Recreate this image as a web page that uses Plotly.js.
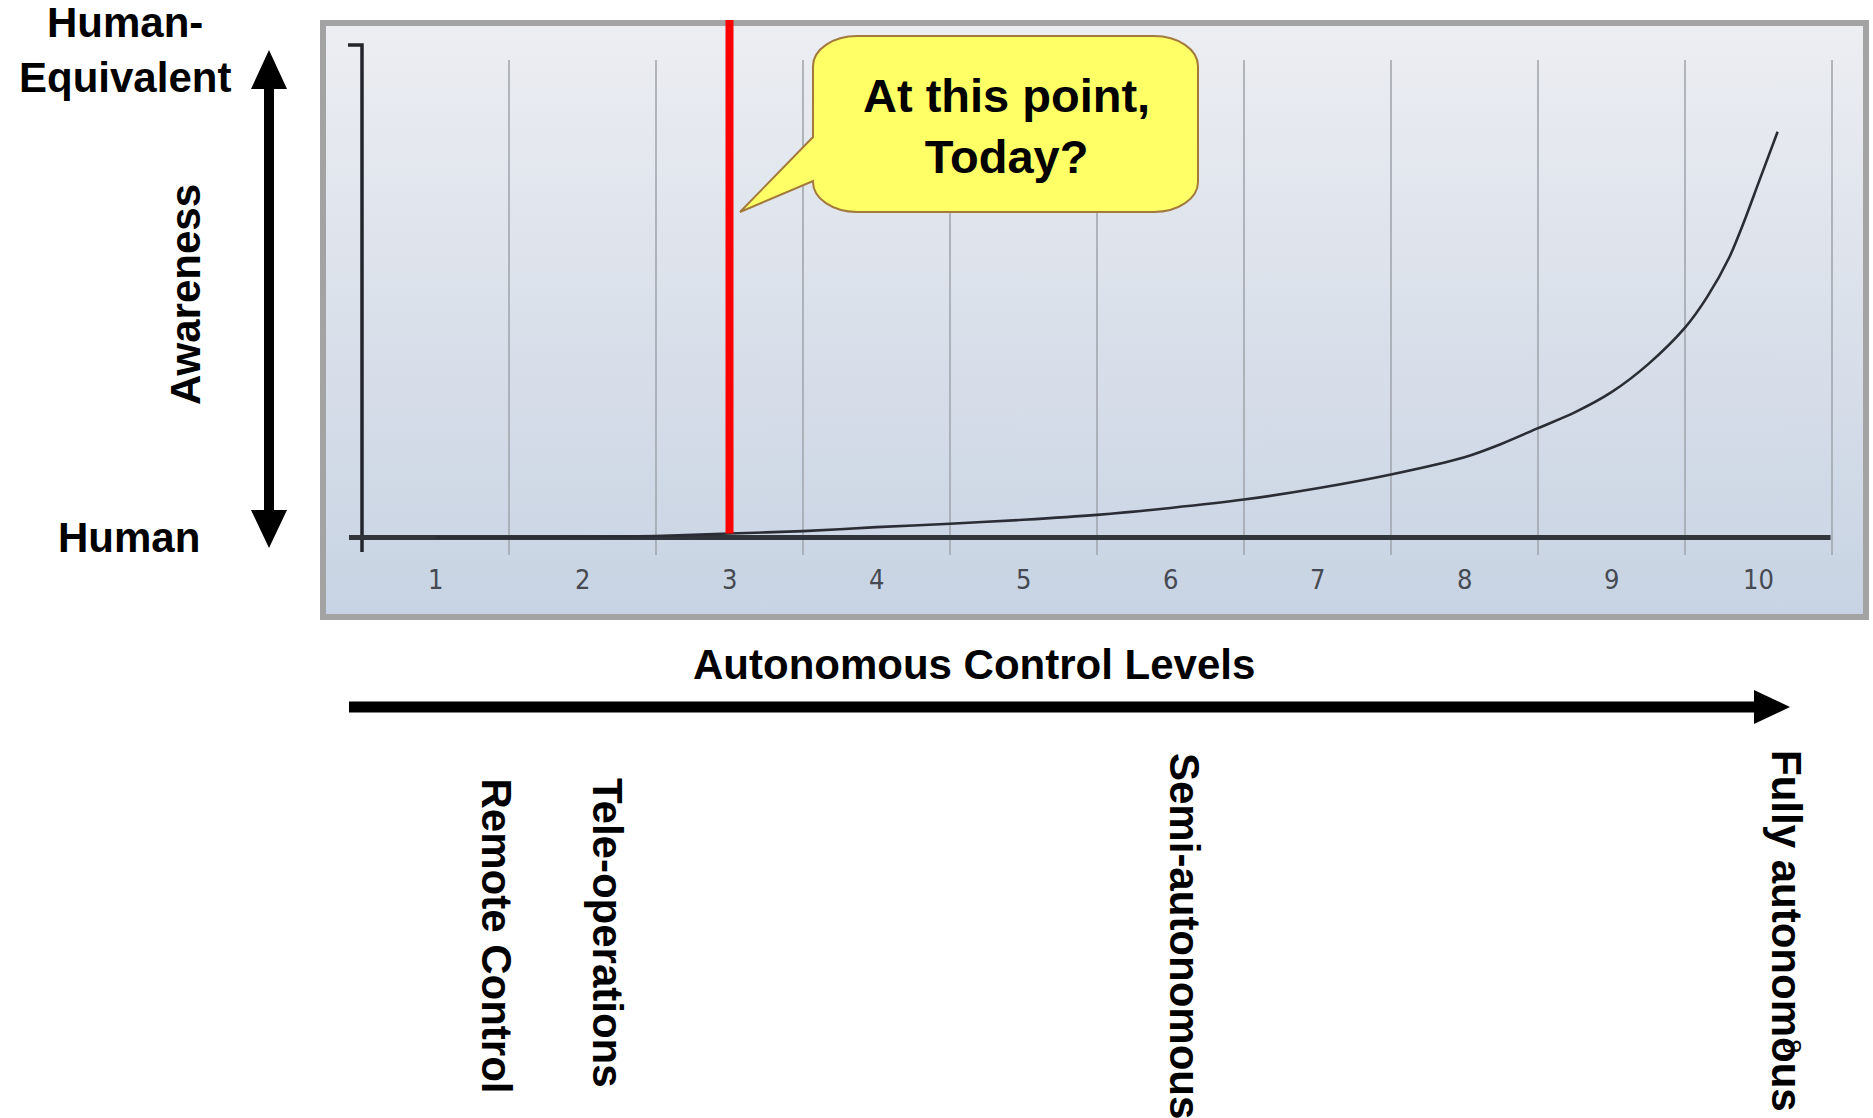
<!DOCTYPE html>
<html>
<head>
<meta charset="utf-8">
<script src="https://cdn.plot.ly/plotly-3.0.1.min.js"></script>
<style>
html,body{margin:0;padding:0;background:#ffffff;}
#chart{width:1873px;height:1118px;}
</style>
</head>
<body>
<div id="chart"></div>
<script>
// ---------------- DATA ----------------
const levels    = [1, 1.5, 2, 2.5, 3, 3.5, 4, 4.5, 5, 5.5, 6, 6.5, 7, 7.5, 8, 8.25, 8.5, 8.75, 9, 9.25, 9.5, 9.65, 9.8, 9.9, 10, 10.13];
const awareness = [0, 0, 0.1, 0.3, 0.8, 1.3, 2.1, 2.8, 3.6, 4.6, 6.0, 7.7, 10.0, 12.8, 16.3, 19.0, 22.2, 25.4, 29.5, 35.2, 42.6, 48.8, 56.8, 64.0, 72.0, 82.4];
const levelTicks = [1, 2, 3, 4, 5, 6, 7, 8, 9, 10];
const levelTickLabels = ['1', '2', '3', '4', '5', '6', '7', '8', '9', '10'];
const todayLevel = 3;
const todayAwareness = 0.8;
const awarenessMax = 100;
const calloutText = 'At this point,<br>Today?';
const yTopLabel = 'Human-<br>Equivalent';
const yBottomLabel = 'Human';
const yTitle = 'Awareness';
const xTitle = 'Autonomous Control Levels';
const stageNames = ['Remote Control', 'Tele-operations', 'Semi-autonomous', 'Fully autonomous'];
const pageNumber = '8';

// ---------------- GEOMETRY (pixels of the page) ----------------
const G = {left: 320, top: 20, right: 1869, bottom: 620, x0: 362, unitX: 147, y0: 537.5, unitY: 4.925};
const xr = [0.5 + (G.left - G.x0) / G.unitX, 0.5 + (G.right - G.x0) / G.unitX];
const yr = [(G.y0 - G.bottom) / G.unitY, (G.y0 - G.top) / G.unitY];
const px = x => (x - G.left) / (G.right - G.left);
const py = y => (G.bottom - y) / (G.bottom - G.top);
const dy = y => (G.y0 - y) / G.unitY; // page pixel -> data y (for decoration)
const dx = x => 0.5 + (x - G.x0) / G.unitX;

const FONT = 'Liberation Sans, Arial, Helvetica, sans-serif';

// ---------------- TRACES ----------------
const traces = [];
// panel background (gradient)
traces.push({
  x: [xr[0], xr[1], xr[1], xr[0], xr[0]],
  y: [yr[0], yr[0], yr[1], yr[1], yr[0]],
  mode: 'lines', fill: 'toself',
  fillcolor: '#dde3eb',
  fillgradient: {type: 'vertical', colorscale: [[0, '#c7d3e3'], [0.5, '#dae0ea'], [1, '#eceef2']]},
  line: {width: 0}, hoverinfo: 'skip', showlegend: false
});
// gridlines between levels
const gx = [], gy = [];
levelTicks.forEach(t => { gx.push(t + 0.5, t + 0.5, null); gy.push(dy(555), dy(60), null); });
traces.push({x: gx, y: gy, mode: 'lines', line: {color: '#a2a7ae', width: 1.6}, hoverinfo: 'skip', showlegend: false});
// y axis line and top tick
traces.push({x: [dx(348), 0.5, 0.5], y: [awarenessMax, awarenessMax, dy(552)], mode: 'lines',
  line: {color: '#22262c', width: 3.5}, hoverinfo: 'skip', showlegend: false});
// baseline
traces.push({x: [dx(349), levelTicks[levelTicks.length - 1] + 0.49], y: [0, 0], mode: 'lines',
  line: {color: '#30353c', width: 5}, hoverinfo: 'skip', showlegend: false});
// awareness curve
traces.push({x: levels, y: awareness, mode: 'lines', line: {color: '#2a2d33', width: 2.6, shape: 'spline', smoothing: 0.8},
  hoverinfo: 'skip', showlegend: false});

// ---------------- SHAPES ----------------
const shapes = [];
// panel border
shapes.push({type: 'rect', xref: 'paper', yref: 'paper', x0: px(G.left + 3), x1: px(G.right - 3), y0: py(G.bottom - 3), y1: py(G.top + 3),
  line: {color: '#a3a3a3', width: 6}, fillcolor: 'rgba(0,0,0,0)', layer: 'above'});
// red "today" line
shapes.push({type: 'line', xref: 'x', yref: 'y', x0: todayLevel, x1: todayLevel, y0: todayAwareness, y1: yr[1],
  line: {color: '#ff0000', width: 8}, layer: 'above'});

// callout bubble
function pathFromPx(cmds) {
  return cmds.map(c => {
    const op = c[0];
    const pts = [];
    for (let i = 1; i < c.length; i += 2) pts.push(px(c[i]).toFixed(5) + ',' + py(c[i + 1]).toFixed(5));
    return op + pts.join(' ');
  }).join(' ') + ' Z';
}
const B = {L: 813, R: 1198, T: 36, B: 212, rx: 44, ry: 30};
const k = 0.45;
const callPath = pathFromPx([
  ['M', B.L + B.rx, B.T],
  ['L', B.R - B.rx, B.T],
  ['C', B.R - B.rx * k, B.T, B.R, B.T + B.ry * k, B.R, B.T + B.ry],
  ['L', B.R, B.B - B.ry],
  ['C', B.R, B.B - B.ry * k, B.R - B.rx * k, B.B, B.R - B.rx, B.B],
  ['L', B.L + B.rx, B.B],
  ['C', B.L + B.rx * k, B.B, B.L, B.B - B.ry * k, B.L, B.B - B.ry],
  ['L', B.L, 181],
  ['L', 740, 212],
  ['L', B.L, 137],
  ['L', B.L, B.T + B.ry],
  ['C', B.L, B.T + B.ry * k, B.L + B.rx * k, B.T, B.L + B.rx, B.T]
]);
shapes.push({type: 'path', xref: 'paper', yref: 'paper', path: callPath,
  fillcolor: '#ffff66', line: {color: '#a27a3c', width: 2}, layer: 'above'});

// vertical double arrow
const VA = {x: 269, sw: 5, hw: 18, t: 50, tb: 89, bb: 510, b: 548};
shapes.push({type: 'path', xref: 'paper', yref: 'paper', fillcolor: '#000000', line: {width: 0}, layer: 'above',
  path: pathFromPx([
    ['M', VA.x, VA.t], ['L', VA.x + VA.hw, VA.tb], ['L', VA.x + VA.sw, VA.tb], ['L', VA.x + VA.sw, VA.bb],
    ['L', VA.x + VA.hw, VA.bb], ['L', VA.x, VA.b], ['L', VA.x - VA.hw, VA.bb], ['L', VA.x - VA.sw, VA.bb],
    ['L', VA.x - VA.sw, VA.tb], ['L', VA.x - VA.hw, VA.tb]
  ])});
// horizontal arrow
const HA = {y: 707, sw: 5.5, hw: 17, l: 349, hb: 1754, tip: 1790};
shapes.push({type: 'path', xref: 'paper', yref: 'paper', fillcolor: '#000000', line: {width: 0}, layer: 'above',
  path: pathFromPx([
    ['M', HA.l, HA.y - HA.sw], ['L', HA.hb, HA.y - HA.sw], ['L', HA.hb, HA.y - HA.hw], ['L', HA.tip, HA.y],
    ['L', HA.hb, HA.y + HA.hw], ['L', HA.hb, HA.y + HA.sw], ['L', HA.l, HA.y + HA.sw]
  ])});

// ---------------- ANNOTATIONS ----------------
const ann = [];
const bold = (t) => '<b>' + t + '</b>';
// tick labels
levelTicks.forEach((t, i) => ann.push({xref: 'x', yref: 'paper', x: t, y: py(579), text: levelTickLabels[i], showarrow: false,
  xanchor: 'center', yanchor: 'middle',
  font: {family: 'Liberation Sans Narrow, DejaVu Sans Condensed, Arial Narrow, sans-serif', size: 27, color: '#454a52'}}));
// callout text
ann.push({xref: 'paper', yref: 'paper', x: px(1006), y: py(126), text: bold(calloutText), showarrow: false,
  xanchor: 'center', yanchor: 'middle', align: 'center', font: {family: FONT, size: 47, color: '#000000'}});
// y side labels
ann.push({xref: 'paper', yref: 'paper', x: px(125), y: py(50), text: bold(yTopLabel), showarrow: false,
  xanchor: 'center', yanchor: 'middle', align: 'center', font: {family: FONT, size: 42, color: '#000000'}});
ann.push({xref: 'paper', yref: 'paper', x: px(129), y: py(537), text: bold(yBottomLabel), showarrow: false,
  xanchor: 'center', yanchor: 'middle', font: {family: FONT, size: 42, color: '#000000'}});
ann.push({xref: 'paper', yref: 'paper', x: px(185), y: py(295), text: bold(yTitle), showarrow: false, textangle: -90,
  xanchor: 'center', yanchor: 'middle', font: {family: FONT, size: 42, color: '#000000'}});
// x title
ann.push({xref: 'paper', yref: 'paper', x: px(974), y: py(664), text: bold(xTitle), showarrow: false,
  xanchor: 'center', yanchor: 'middle', font: {family: FONT, size: 42, color: '#000000'}});
// stage labels (rotated)
const stageX = [496, 608, 1185, 1787];
const stageTop = [776, 776, 751, 748];
stageNames.forEach((s, i) => ann.push({xref: 'paper', yref: 'paper', x: px(stageX[i]), y: py(stageTop[i]), text: bold(s),
  showarrow: false, textangle: 90, xanchor: 'center', yanchor: 'top', font: {family: FONT, size: 42, color: '#000000'}}));
// page number overlapping last label
ann.push({xref: 'paper', yref: 'paper', x: px(1792), y: py(1046), text: pageNumber, showarrow: false, textangle: 90,
  xanchor: 'center', yanchor: 'middle', font: {family: FONT, size: 26, color: '#000000'}});

// ---------------- LAYOUT ----------------
const layout = {
  width: 1873, height: 1118, autosize: false,
  margin: {l: G.left, r: 1873 - G.right, t: G.top, b: 1118 - G.bottom, pad: 0},
  paper_bgcolor: '#ffffff', plot_bgcolor: '#dde3eb',
  showlegend: false,
  xaxis: {range: xr, visible: false, fixedrange: true},
  yaxis: {range: yr, visible: false, fixedrange: true},
  shapes: shapes,
  annotations: ann
};

Plotly.newPlot('chart', traces, layout, {staticPlot: true, displayModeBar: false});
</script>
</body>
</html>
